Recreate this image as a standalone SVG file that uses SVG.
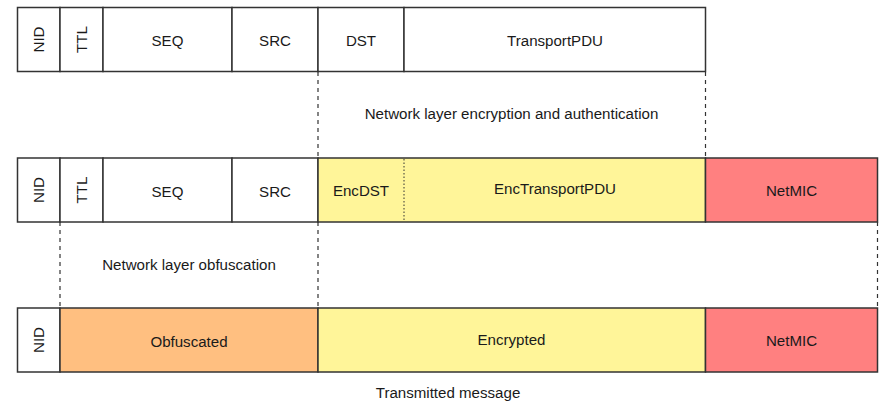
<svg xmlns="http://www.w3.org/2000/svg" width="881" height="402" viewBox="0 0 881 402">
  <style>
    .box { stroke: #333; stroke-width: 1.5; }
    .plain { fill: #ffffff; }
    .enc { fill: #fff599; }
    .obf { fill: #ffbf80; }
    .mic { fill: #ff8080; }
    .lbl { font-family: "Liberation Sans", Arial, sans-serif; font-size: 15.1px; fill: #1a1a1a; text-anchor: middle; }
    .dash { stroke: #333; stroke-width: 1.2; stroke-dasharray: 4 4; fill: none; }
    .dot { stroke: #333; stroke-width: 1; stroke-dasharray: 1.5 2; fill: none; }
  </style>
  <rect width="881" height="402" fill="#ffffff"/>

  <!-- connectors: dashed guides between rows -->
  <g id="connectors">
    <line class="dash" x1="318" y1="72" x2="318" y2="158"/>
    <line class="dash" x1="705.5" y1="72" x2="705.5" y2="158"/>
    <line class="dash" x1="60" y1="222" x2="60" y2="308"/>
    <line class="dash" x1="318" y1="222" x2="318" y2="308"/>
    <line class="dash" x1="877.5" y1="222" x2="877.5" y2="308"/>
  </g>

  <!-- row 1: plain network PDU -->
  <g id="row1">
    <g id="r1-nid"><rect class="box plain" x="17.5" y="7.5" width="42.5" height="64"/><text class="lbl" transform="translate(43.8 39.5) rotate(-90)">NID</text></g>
    <g id="r1-ttl"><rect class="box plain" x="60" y="7.5" width="43" height="64"/><text class="lbl" transform="translate(86.8 39.5) rotate(-90)">TTL</text></g>
    <g id="r1-seq"><rect class="box plain" x="103" y="7.5" width="129" height="64"/><text class="lbl" x="167.5" y="46">SEQ</text></g>
    <g id="r1-src"><rect class="box plain" x="232" y="7.5" width="86" height="64"/><text class="lbl" x="275" y="46">SRC</text></g>
    <g id="r1-dst"><rect class="box plain" x="318" y="7.5" width="86" height="64"/><text class="lbl" x="361" y="46">DST</text></g>
    <g id="r1-pdu"><rect class="box plain" x="404" y="7.5" width="301.5" height="64"/><text class="lbl" x="555" y="46">TransportPDU</text></g>
  </g>

  <text id="step-encrypt" class="lbl" x="511.5" y="118.5">Network layer encryption and authentication</text>

  <!-- row 2: encrypted PDU with MIC -->
  <g id="row2">
    <g id="r2-nid"><rect class="box plain" x="17.5" y="158" width="42.5" height="64"/><text class="lbl" transform="translate(43.8 190) rotate(-90)">NID</text></g>
    <g id="r2-ttl"><rect class="box plain" x="60" y="158" width="43" height="64"/><text class="lbl" transform="translate(86.8 190) rotate(-90)">TTL</text></g>
    <g id="r2-seq"><rect class="box plain" x="103" y="158" width="129" height="64"/><text class="lbl" x="167.5" y="196.5">SEQ</text></g>
    <g id="r2-src"><rect class="box plain" x="232" y="158" width="86" height="64"/><text class="lbl" x="275" y="196.5">SRC</text></g>
    <g id="r2-enc"><rect class="box enc" x="318" y="158" width="387.5" height="64"/>
      <line class="dot" x1="404" y1="159" x2="404" y2="221"/>
      <text class="lbl" x="361" y="195.5">EncDST</text>
      <text class="lbl" x="555" y="193.5">EncTransportPDU</text></g>
    <g id="r2-mic"><rect class="box mic" x="705.5" y="158" width="172" height="64"/><text class="lbl" x="791.5" y="196">NetMIC</text></g>
  </g>

  <text id="step-obfuscate" class="lbl" x="189" y="269.5">Network layer obfuscation</text>

  <!-- row 3: transmitted message -->
  <g id="row3">
    <g id="r3-nid"><rect class="box plain" x="17.5" y="308" width="42.5" height="64"/><text class="lbl" transform="translate(43.8 340) rotate(-90)">NID</text></g>
    <g id="r3-obf"><rect class="box obf" x="60" y="308" width="258" height="64"/><text class="lbl" x="189" y="346.5">Obfuscated</text></g>
    <g id="r3-enc"><rect class="box enc" x="318" y="308" width="387.5" height="64"/><text class="lbl" x="511.5" y="344.5">Encrypted</text></g>
    <g id="r3-mic"><rect class="box mic" x="705.5" y="308" width="172" height="64"/><text class="lbl" x="791.5" y="346">NetMIC</text></g>
  </g>

  <text id="caption" class="lbl" x="448" y="398">Transmitted message</text>
</svg>
